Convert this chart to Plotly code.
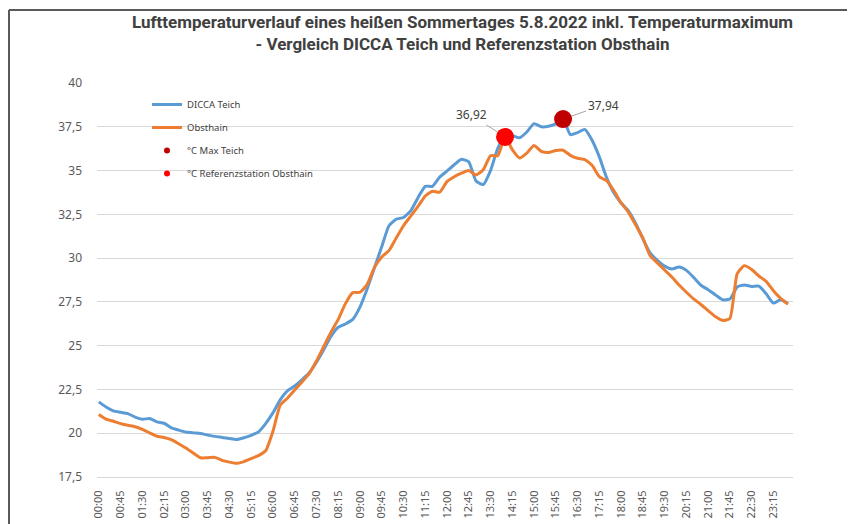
import plotly.graph_objects as go

# ---------------- data ----------------
times = [f"{h:02d}:{m:02d}" for h in range(24) for m in (0, 15, 30, 45)]

dicca_teich = [
    21.79, 21.50, 21.28, 21.20, 21.12, 20.92, 20.80, 20.84, 20.65, 20.57,
    20.31, 20.18, 20.07, 20.02, 19.98, 19.90, 19.82, 19.76, 19.70, 19.64,
    19.74, 19.88, 20.07, 20.55, 21.16, 21.90, 22.42, 22.70, 23.05, 23.45,
    24.05, 24.77, 25.53, 26.05, 26.24, 26.50, 27.20, 28.25, 29.45, 30.65,
    31.85, 32.22, 32.32, 32.70, 33.45, 34.10, 34.10, 34.63, 34.97, 35.33,
    35.64, 35.50, 34.40, 34.20, 35.00, 36.27, 36.95, 37.00, 36.87, 37.20,
    37.68, 37.50, 37.53, 37.67, 37.94, 37.05, 37.17, 37.35, 36.73, 35.78,
    34.60, 33.73, 33.15, 32.70, 32.00, 31.10, 30.30, 29.87, 29.54, 29.38,
    29.49, 29.30, 28.90, 28.45, 28.20, 27.90, 27.62, 27.66, 28.35, 28.47,
    28.38, 28.40, 27.96, 27.43, 27.62, 27.40,
]

obsthain = [
    21.07, 20.80, 20.68, 20.55, 20.45, 20.37, 20.22, 20.02, 19.83, 19.76,
    19.63, 19.40, 19.15, 18.87, 18.60, 18.60, 18.62, 18.45, 18.35, 18.28,
    18.38, 18.55, 18.72, 19.00, 20.10, 21.60, 22.00, 22.47, 22.93, 23.40,
    24.12, 24.95, 25.77, 26.50, 27.40, 28.03, 28.05, 28.50, 29.47, 30.07,
    30.43, 31.15, 31.85, 32.40, 32.95, 33.55, 33.82, 33.77, 34.37, 34.65,
    34.85, 35.00, 34.75, 35.05, 35.85, 35.85, 36.92, 36.20, 35.72, 36.00,
    36.43, 36.10, 36.03, 36.15, 36.16, 35.87, 35.70, 35.63, 35.30, 34.65,
    34.42, 33.85, 33.15, 32.63, 31.90, 31.15, 30.14, 29.73, 29.32, 28.92,
    28.46, 28.05, 27.67, 27.35, 27.00, 26.66, 26.44, 26.55, 29.10, 29.57,
    29.35, 28.98, 28.67, 28.14, 27.70, 27.37,
]

max_teich_time = ["16:00"]
max_teich_val = [37.94]
max_obst_time = ["14:00"]
max_obst_val = [36.92]

tick_labels = times[::3]
y_ticks = [17.5, 20, 22.5, 25, 27.5, 30, 32.5, 35, 37.5, 40]

title_text = ("Lufttemperaturverlauf eines heißen Sommertages 5.8.2022 inkl. Temperaturmaximum"
              "<br>- Vergleich DICCA Teich und Referenzstation Obsthain")

# ---------------- layout geometry ----------------
# the page body has an 8px margin, so the figure is drawn at (8, 8)
OFF = 8
W, H = 855 - OFF, 524 - OFF
L, R, T, B = 97 - OFF, 62, 83 - OFF, 47
PW, PH = W - L - R, H - T - B


def px(xp):
    """page x pixel -> paper x"""
    return (xp - OFF - L) / PW


def py(yp):
    """page y pixel -> paper y"""
    return 1 - (yp - OFF - T) / PH


BLUE = "#5B9BD5"
ORANGE = "#ED7D31"
DARKRED = "#C00000"
RED = "#FF0000"

fig = go.Figure()

fig.add_trace(go.Scatter(
    x=times, y=dicca_teich, mode="lines", name="DICCA Teich",
    line=dict(color=BLUE, width=3, shape="spline", smoothing=0.5),
    legendgroup="g1"))
fig.add_trace(go.Scatter(
    x=times, y=obsthain, mode="lines", name="Obsthain",
    line=dict(color=ORANGE, width=3, shape="spline", smoothing=0.5),
    legendgroup="g2"))

# big markers on chart (not in legend)
fig.add_trace(go.Scatter(
    x=max_teich_time, y=max_teich_val, mode="markers", showlegend=False,
    marker=dict(color=DARKRED, size=18, line=dict(width=0)), hoverinfo="skip"))
fig.add_trace(go.Scatter(
    x=max_obst_time, y=max_obst_val, mode="markers", showlegend=False,
    marker=dict(color=RED, size=18, line=dict(width=0)), hoverinfo="skip"))

# legend entries with small markers
fig.add_trace(go.Scatter(
    x=[None], y=[None], mode="markers", name="°C Max Teich",
    marker=dict(color=DARKRED, size=6), legendgroup="g3"))
fig.add_trace(go.Scatter(
    x=[None], y=[None], mode="markers", name="°C Referenzstation Obsthain",
    marker=dict(color=RED, size=6), legendgroup="g4"))

# data labels with leader lines
for t, v, ax, ay in [(max_obst_time[0], max_obst_val[0], -34, -22),
                     (max_teich_time[0], max_teich_val[0], 40, -14)]:
    fig.add_annotation(
        x=t, y=v, xref="x", yref="y",
        text=f"{v:.2f}".replace(".", ","),
        showarrow=True, arrowhead=0, arrowwidth=1, arrowcolor="#A6A6A6",
        ax=ax, ay=ay, standoff=9,
        font=dict(family="Noto Sans, Arial, sans-serif", size=12, color="#404040"))

# title as annotation
fig.add_annotation(
    x=px(462), y=py(33), xref="paper", yref="paper",
    xanchor="center", yanchor="middle", showarrow=False,
    text=title_text, align="center",
    font=dict(family="Liberation Sans Narrow, Roboto, Arial Narrow, sans-serif",
              size=17, color="#404040", weight="bold"))

# outer frame lines (left and top)
fig.add_shape(type="line", xref="paper", yref="paper",
              x0=px(9), x1=px(9), y0=py(10), y1=py(530),
              line=dict(color="#595959", width=2))
fig.add_shape(type="line", xref="paper", yref="paper",
              x0=px(9), x1=px(860), y0=py(10), y1=py(10),
              line=dict(color="#595959", width=2))

fig.update_layout(
    width=W, height=H,
    margin=dict(l=L, r=R, t=T, b=B, autoexpand=False),
    paper_bgcolor="white", plot_bgcolor="white",
    separators=",.",
    showlegend=True,
    legend=dict(x=px(147), y=py(90), xanchor="left", yanchor="top",
                bgcolor="rgba(0,0,0,0)", tracegroupgap=4,
                font=dict(family="Noto Sans, Arial, sans-serif", size=9.5, color="#404040")),
    xaxis=dict(type="category", categoryorder="array", categoryarray=times,
               range=[-0.25, 95.7], automargin=False,
               tickmode="array", tickvals=tick_labels, ticktext=tick_labels,
               tickangle=-90, ticks="", showgrid=False, zeroline=False,
               showline=True, linecolor="#D9D9D9", linewidth=1,
               ticklabelstandoff=8,
               tickfont=dict(family="Noto Sans, Arial, sans-serif", size=11, color="#595959")),
    yaxis=dict(range=[17.5, 40], tickmode="array", tickvals=y_ticks, automargin=False,
               showgrid=True, gridcolor="#D9D9D9", gridwidth=1,
               zeroline=False, showline=False, ticks="",
               ticklabelstandoff=14,
               tickfont=dict(family="Noto Sans, Arial, sans-serif", size=12, color="#595959")),
)

fig.write_html("out.html")
